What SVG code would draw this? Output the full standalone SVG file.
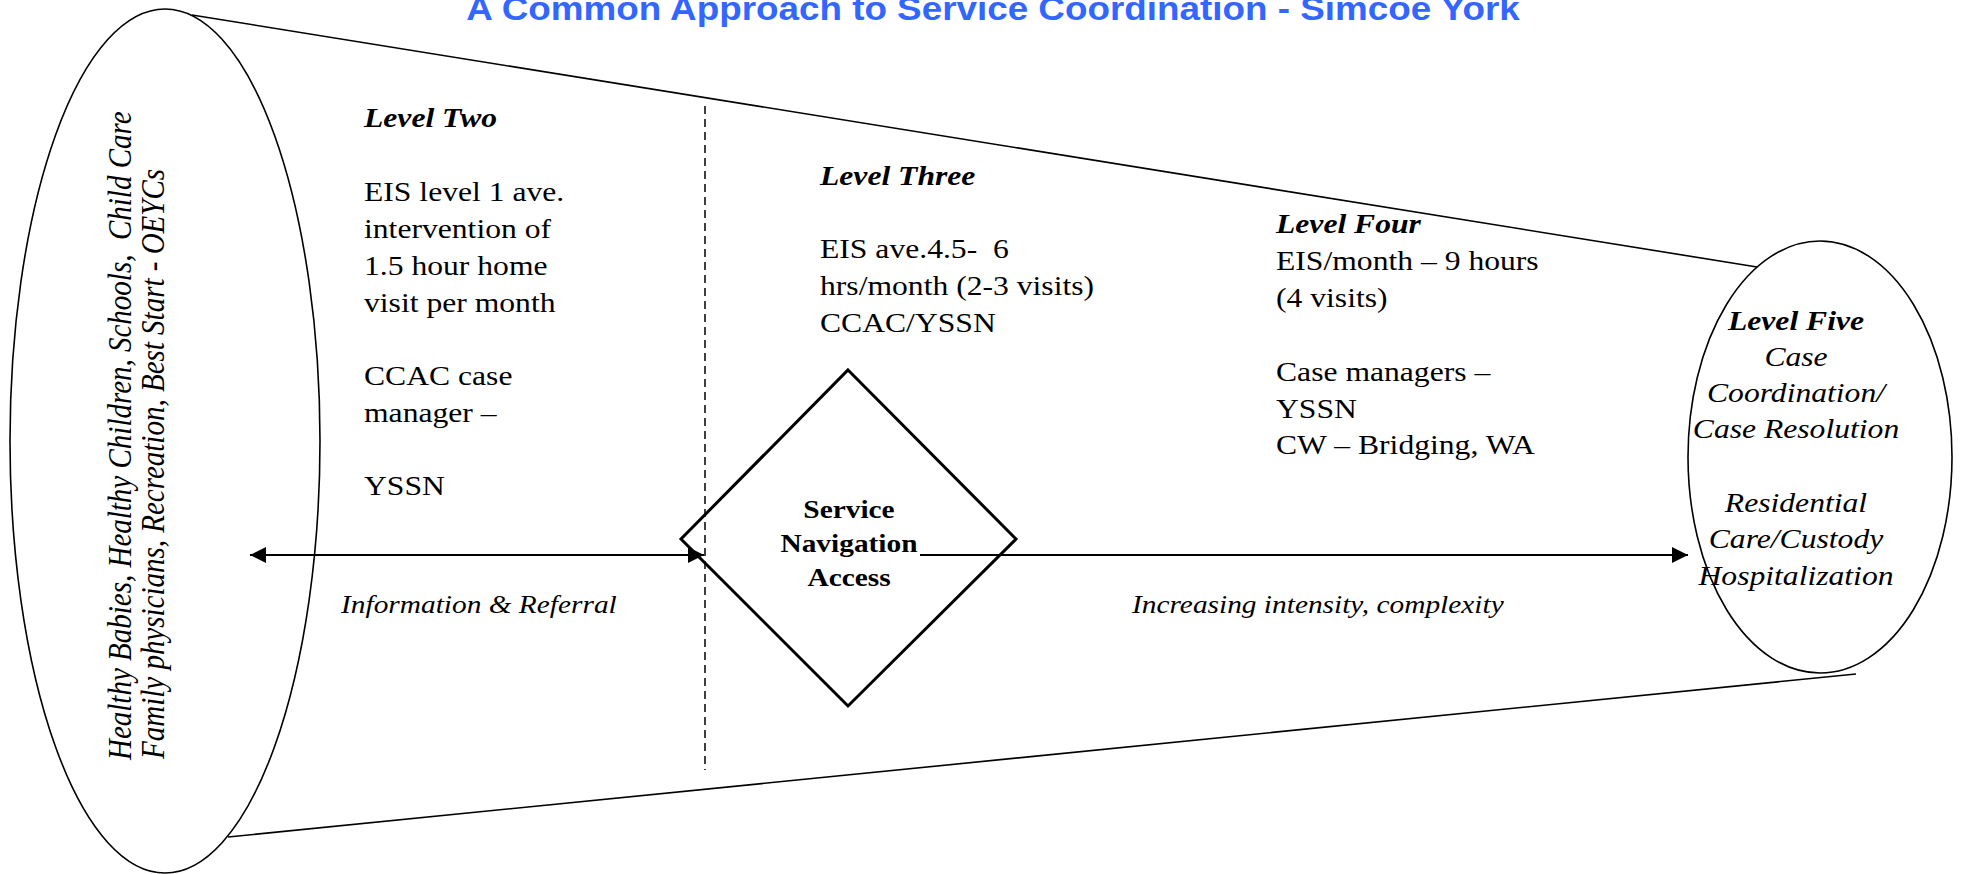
<svg xmlns="http://www.w3.org/2000/svg" width="1962" height="874" viewBox="0 0 1962 874">
  <style>
    .outline { fill: none; stroke: #000; stroke-width: 1.6; }
    .diamond { fill: none; stroke: #000; stroke-width: 3; }
    .guide { fill: none; stroke: #000; stroke-width: 1.5; stroke-dasharray: 8 5; }
    .flow { fill: none; stroke: #000; stroke-width: 2; }
    .serif { font-family: "Liberation Serif", "Times New Roman", serif; fill: #000; white-space: pre; }
    .body { font-size: 28px; }
    .head { font-size: 28px; font-weight: bold; font-style: italic; }
    .ital { font-style: italic; }
    .label { font-size: 26px; font-style: italic; }
    .hub { font-size: 26px; font-weight: bold; text-anchor: middle; }
    .side { font-size: 29px; font-style: italic; }
    .title { font-family: "Liberation Sans", Arial, sans-serif; font-size: 32.6px; font-weight: bold; fill: #3366FF; text-anchor: middle; }
  </style>
  <defs>
    <marker id="arrowEnd" markerUnits="userSpaceOnUse" viewBox="0 0 16 16" refX="16" refY="8" markerWidth="16" markerHeight="16" orient="auto">
      <path d="M0,0 L16,8 L0,16 Z" fill="#000"/>
    </marker>
    <marker id="arrowStart" markerUnits="userSpaceOnUse" viewBox="0 0 16 16" refX="0" refY="8" markerWidth="16" markerHeight="16" orient="auto">
      <path d="M16,0 L0,8 L16,16 Z" fill="#000"/>
    </marker>
  </defs>

  <rect width="1962" height="874" fill="#fff"/>

  <!-- heading -->
  <g id="title" transform="translate(993,0) scale(1.13,1)">
    <text class="title" x="0" y="20">A Common Approach to Service Coordination - Simcoe York</text>
  </g>

  <!-- funnel body -->
  <g id="funnel">
    <line class="outline" x1="192" y1="15" x2="1757" y2="267"/>
    <line class="outline" x1="228" y1="837" x2="1856" y2="674"/>
    <line class="guide" x1="705" y1="106" x2="705" y2="770"/>
  </g>

  <!-- level one: universal services -->
  <g id="level-one">
    <ellipse class="outline" cx="165" cy="441" rx="155" ry="432"/>
    <g transform="translate(131,760) scale(1.13,1) rotate(-90)">
      <text class="serif side" x="0" y="0">Healthy Babies, Healthy Children, Schools,  Child Care</text>
    </g>
    <g transform="translate(164,759) scale(1.13,1) rotate(-90)">
      <text class="serif side" x="0" y="0">Family physicians, Recreation, Best Start - OEYCs</text>
    </g>
  </g>

  <!-- level five: intensive services -->
  <g id="level-five">
    <ellipse class="outline" cx="1820" cy="457" rx="132" ry="216"/>
    <g transform="translate(1796,0) scale(1.13,1)" text-anchor="middle">
      <text class="serif head" x="0" y="330">Level Five</text>
      <text class="serif body ital" x="0" y="366">Case</text>
      <text class="serif body ital" x="0" y="402">Coordination/</text>
      <text class="serif body ital" x="0" y="438">Case Resolution</text>
      <text class="serif body ital" x="0" y="512">Residential</text>
      <text class="serif body ital" x="0" y="548">Care/Custody</text>
      <text class="serif body ital" x="0" y="585">Hospitalization</text>
    </g>
  </g>

  <!-- level two -->
  <g id="level-two" transform="translate(364,0) scale(1.13,1)">
    <text class="serif head" x="0" y="127">Level Two</text>
    <text class="serif body" x="0" y="201">EIS level 1 ave.</text>
    <text class="serif body" x="0" y="238">intervention of</text>
    <text class="serif body" x="0" y="275">1.5 hour home</text>
    <text class="serif body" x="0" y="312">visit per month</text>
    <text class="serif body" x="0" y="385">CCAC case</text>
    <text class="serif body" x="0" y="422">manager –</text>
    <text class="serif body" x="0" y="495">YSSN</text>
  </g>

  <!-- level three -->
  <g id="level-three" transform="translate(820,0) scale(1.13,1)">
    <text class="serif head" x="0" y="185">Level Three</text>
    <text class="serif body" x="0" y="258">EIS ave.4.5-  6</text>
    <text class="serif body" x="0" y="295">hrs/month (2-3 visits)</text>
    <text class="serif body" x="0" y="332">CCAC/YSSN</text>
  </g>

  <!-- level four -->
  <g id="level-four" transform="translate(1276,0) scale(1.13,1)">
    <text class="serif head" x="0" y="233">Level Four</text>
    <text class="serif body" x="0" y="270">EIS/month – 9 hours</text>
    <text class="serif body" x="0" y="307">(4 visits)</text>
    <text class="serif body" x="0" y="381">Case managers –</text>
    <text class="serif body" x="0" y="418">YSSN</text>
    <text class="serif body" x="0" y="454">CW – Bridging, WA</text>
  </g>

  <!-- entry point -->
  <g id="navigation">
    <polygon class="diamond" points="848,370 1016,539 848,706 681,539"/>
    <g transform="translate(849,0) scale(1.13,1)">
      <text class="serif hub" x="0" y="518">Service</text>
      <text class="serif hub" x="0" y="552">Navigation</text>
      <text class="serif hub" x="0" y="586">Access</text>
    </g>
  </g>

  <!-- flow arrows -->
  <g id="connectors">
    <line class="flow" x1="250" y1="555" x2="704" y2="555" marker-start="url(#arrowStart)" marker-end="url(#arrowEnd)"/>
    <line class="flow" x1="920" y1="555" x2="1688" y2="555" marker-end="url(#arrowEnd)"/>
  </g>

  <!-- flow labels -->
  <g id="flow-labels">
    <g transform="translate(341,0) scale(1.13,1)">
      <text class="serif label" x="0" y="613">Information &amp; Referral</text>
    </g>
    <g transform="translate(1132,0) scale(1.13,1)">
      <text class="serif label" x="0" y="613">Increasing intensity, complexity</text>
    </g>
  </g>
</svg>
